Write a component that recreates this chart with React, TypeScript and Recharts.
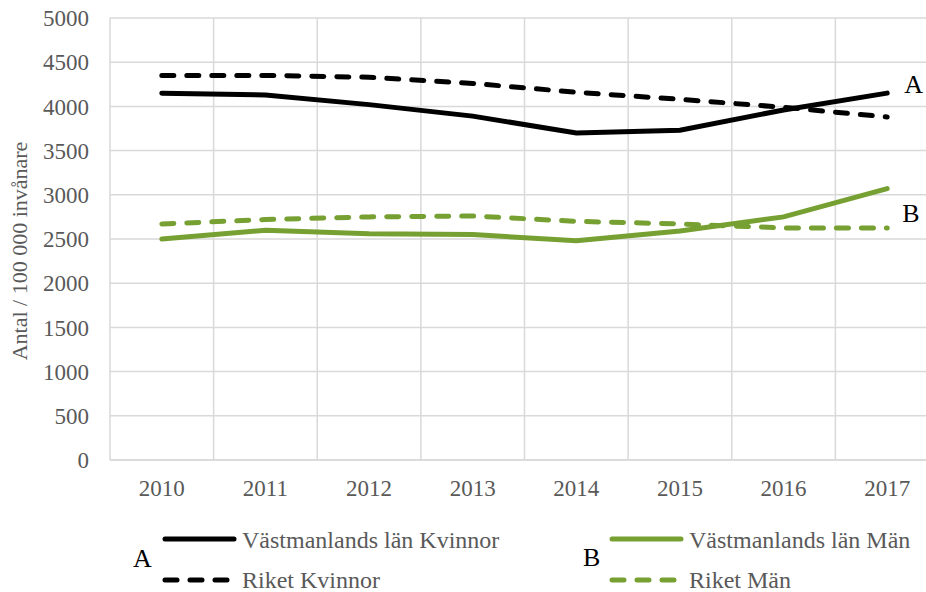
import {
  ComposedChart,
  Line,
  XAxis,
  YAxis,
  CartesianGrid,
  LabelList,
} from "recharts";

const years = ["2010", "2011", "2012", "2013", "2014", "2015", "2016", "2017"];
const vastKvinnor = [4150, 4130, 4020, 3890, 3700, 3730, 3960, 4150];
const riketKvinnor = [4350, 4350, 4330, 4260, 4160, 4080, 3990, 3880];
const vastMan = [2500, 2600, 2560, 2550, 2480, 2590, 2750, 3070];
const riketMan = [2670, 2720, 2750, 2760, 2700, 2670, 2625, 2625];
const yTicks = [0, 500, 1000, 1500, 2000, 2500, 3000, 3500, 4000, 4500, 5000];

const data = years.map((year, i) => ({
  year,
  vastKvinnor: vastKvinnor[i],
  riketKvinnor: riketKvinnor[i],
  vastMan: vastMan[i],
  riketMan: riketMan[i],
}));

const GREEN = "#77A033";
const TEXT = "#595959";
const FONT = "'Liberation Serif', Tinos, 'DejaVu Serif', serif";
const DASH = "12 13";

const endLabel = (letter: string, dx: number, dy: number) => (props: any) => {
  if (props.index !== years.length - 1) return null;
  return (
    <text x={props.x + dx} y={props.y + dy} fontSize={26} fontFamily={FONT} fill="#000">
      {letter}
    </text>
  );
};

// vertical grid lines sit on the category band edges, as in Excel
const bandEdges = ({ offset }: any) => {
  const step = offset.width / years.length;
  return [...years.map((_, i) => offset.left + i * step), offset.left + offset.width];
};

function LegendSvg() {
  const row = (x: number, lineY: number, textY: number, color: string, dashed: boolean, label: string) => (
    <g>
      <line
        x1={x + 2}
        y1={lineY}
        x2={x + 71}
        y2={lineY}
        stroke={color}
        strokeWidth={5}
        strokeLinecap="round"
        strokeDasharray={dashed ? DASH : undefined}
      />
      <text x={x + 79} y={textY} fontSize={24} fontFamily={FONT} fill={TEXT}>
        {label}
      </text>
    </g>
  );
  return (
    <svg
      width={926}
      height={592}
      style={{ position: "absolute", left: 0, top: 0, pointerEvents: "none" }}
    >
      <text x={133} y={567} fontSize={26} fontFamily={FONT} fill="#000">A</text>
      {row(163, 539, 548, "#000", false, "Västmanlands län Kvinnor")}
      {row(163, 580, 588, "#000", true, "Riket Kvinnor")}
      <text x={583} y={566} fontSize={26} fontFamily={FONT} fill="#000">B</text>
      {row(610, 539, 548, GREEN, false, "Västmanlands län Män")}
      {row(610, 580, 588, GREEN, true, "Riket Män")}
    </svg>
  );
}

export default function App() {
  return (
    <div
      style={{
        position: "absolute",
        left: 0,
        top: 0,
        width: 926,
        height: 592,
        overflow: "hidden",
        background: "#fff",
      }}
    >
      <ComposedChart
        width={960}
        height={592}
        data={data}
        margin={{ top: 18, right: 21, left: 0, bottom: 0 }}
      >
        <CartesianGrid
          stroke="#D9D9D9"
          strokeWidth={1.5}
          verticalCoordinatesGenerator={bandEdges}
        />
        <XAxis
          dataKey="year"
          scale="band"
          height={132}
          tick={{ fill: TEXT, fontSize: 23, fontFamily: FONT }}
          tickSize={0}
          tickMargin={20}
          tickLine={false}
          axisLine={{ stroke: "#D9D9D9", strokeWidth: 1.5 }}
        />
        <YAxis
          width={110}
          domain={[0, 5000]}
          ticks={yTicks}
          tick={{ fill: TEXT, fontSize: 23, fontFamily: FONT }}
          tickSize={0}
          tickMargin={21}
          tickLine={false}
          axisLine={false}
          label={{
            value: "Antal / 100 000 invånare",
            angle: -90,
            position: "insideLeft",
            dx: 14,
            dy: 12,
            style: { fill: TEXT, fontSize: 22, fontFamily: FONT, textAnchor: "middle" },
          }}
        />
        <Line
          dataKey="riketKvinnor"
          stroke="#000"
          strokeWidth={5}
          strokeDasharray={DASH}
          strokeLinecap="round"
          dot={false}
          isAnimationActive={false}
        />
        <Line
          dataKey="vastKvinnor"
          stroke="#000"
          strokeWidth={5}
          strokeLinecap="round"
          dot={false}
          isAnimationActive={false}
        >
          <LabelList content={endLabel("A", 17, 0)} />
        </Line>
        <Line
          dataKey="riketMan"
          stroke={GREEN}
          strokeWidth={5}
          strokeDasharray={DASH}
          strokeLinecap="round"
          dot={false}
          isAnimationActive={false}
        >
          <LabelList content={endLabel("B", 15, -6)} />
        </Line>
        <Line
          dataKey="vastMan"
          stroke={GREEN}
          strokeWidth={5}
          strokeLinecap="round"
          dot={false}
          isAnimationActive={false}
        />
      </ComposedChart>
      <LegendSvg />
    </div>
  );
}
